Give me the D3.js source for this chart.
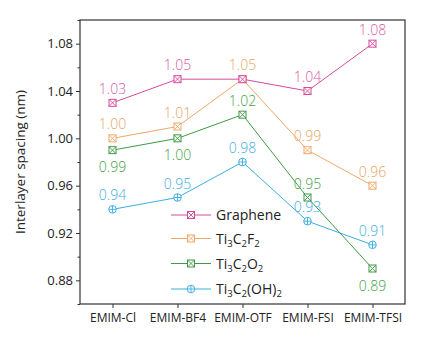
<!DOCTYPE html>
<html><head><meta charset="utf-8">
<script src="https://cdn.jsdelivr.net/npm/d3@7"></script>
<style>body{margin:0;background:#fff}svg{display:block}text{font-family:"Open Sans",sans-serif;font-weight:300}</style>
</head><body><svg id="c" width="424" height="338"></svg>
<script>
const categories = ["EMIM-Cl","EMIM-BF4","EMIM-OTF","EMIM-FSI","EMIM-TFSI"];
const graphene = [1.03,1.05,1.05,1.04,1.08];
const f2 = [1.00,1.01,1.05,0.99,0.96];
const o2 = [0.99,1.00,1.02,0.95,0.89];
const oh2 = [0.94,0.95,0.98,0.93,0.91];
const yTicks = [0.88,0.92,0.96,1.00,1.04,1.08];
const yMinor = [0.86,0.90,0.94,0.98,1.02,1.06,1.10];
// label placement per point: 1 above, -1 below, 0 hidden (covered by another label)
const o2Pos = [-1,-1,1,1,-1];

const series = [
  {name:[["Graphene",""]], vals:graphene, color:"#d8489c", text:"#d95aa6", marker:"sq", pos:[1,1,0,1,1]},
  {name:[["Ti",""],["3","sub"],["C",""],["2","sub"],["F",""],["2","sub"]], vals:f2, color:"#f0a868", text:"#e8a466", marker:"sq", pos:[1,1,1,1,1]},
  {name:[["Ti",""],["3","sub"],["C",""],["2","sub"],["O",""],["2","sub"]], vals:o2, color:"#3d9a45", text:"#45a04c", marker:"sq", pos:o2Pos},
  {name:[["Ti",""],["3","sub"],["C",""],["2","sub"],["(OH)",""],["2","sub"]], vals:oh2, color:"#3aaee0", text:"#42aee0", marker:"ci", pos:[1,1,1,1,1]}
];

const svg = d3.select("#c");
const L=80,T=20,R=405,B=304;
const x = d3.scalePoint().domain(categories).range([L,R]).padding(0.5);
const y = d3.scaleLinear().domain([0.86,1.10]).range([B,T]);

svg.append("rect").attr("x",L).attr("y",T).attr("width",R-L).attr("height",B-T)
  .attr("fill","none").attr("stroke","#333").attr("stroke-width",1.2);

const ya = svg.append("g").attr("transform",`translate(${L},0)`)
  .call(d3.axisLeft(y).tickValues(yTicks).tickFormat(d3.format(".2f")).tickSize(4).tickPadding(3));
ya.select(".domain").remove();
ya.selectAll("line").attr("stroke","#333");
ya.selectAll("text").attr("font-size",13).attr("fill","#222").style("font-family","'Open Sans',sans-serif").style("font-weight",400);
svg.append("g").attr("transform",`translate(${L},0)`)
  .call(d3.axisLeft(y).tickValues(yMinor).tickFormat("").tickSize(2.5))
  .call(g=>{g.select(".domain").remove();g.selectAll("line").attr("stroke","#333");});

const xa = svg.append("g").attr("transform",`translate(0,${B})`)
  .call(d3.axisBottom(x).tickSize(4).tickPadding(5));
xa.select(".domain").remove();
xa.selectAll("line").attr("stroke","#333");
xa.selectAll("text").attr("font-size",12).attr("fill","#222").style("font-family","'Open Sans',sans-serif").style("font-weight",400);

svg.append("text").attr("transform",`translate(25,${(T+B)/2}) rotate(-90)`)
  .attr("text-anchor","middle").attr("font-size",13.5).attr("fill","#222").style("font-weight",400).text("Interlayer spacing (nm)");

function marker(g, type, cx, cy, color){
  const s=3.5;
  if(type==="sq"){
    g.append("rect").attr("x",cx-s).attr("y",cy-s).attr("width",2*s).attr("height",2*s)
      .attr("fill","#fff").attr("stroke",color).attr("stroke-width",1);
    g.append("path").attr("d",`M${cx-s},${cy-s}L${cx+s},${cy+s}M${cx+s},${cy-s}L${cx-s},${cy+s}`)
      .attr("stroke",color).attr("stroke-width",0.9);
  } else {
    g.append("circle").attr("cx",cx).attr("cy",cy).attr("r",s+0.3)
      .attr("fill","#fff").attr("stroke",color).attr("stroke-width",1);
    g.append("path").attr("d",`M${cx-s},${cy}L${cx+s},${cy}M${cx},${cy-s}L${cx},${cy+s}`)
      .attr("stroke",color).attr("stroke-width",0.9);
  }
}

const line = d3.line().x((d,i)=>x(categories[i])).y(d=>y(d));
[...series].reverse().forEach(s=>{
  const g = svg.append("g");
  g.append("path").datum(s.vals).attr("d",line).attr("fill","none").attr("stroke",s.color).attr("stroke-width",1);
  s.vals.forEach((v,i)=>marker(g,s.marker,x(categories[i]),y(v),s.color));
});
series.forEach(s=>{
  s.vals.forEach((v,i)=>{
    if(s.pos[i]===0) return;
    const above = s.pos[i]===1;
    svg.append("text").attr("x",x(categories[i])).attr("y",y(v)+(above?-9:22))
      .attr("text-anchor","middle").attr("font-size",14).attr("fill",s.text).text(d3.format(".2f")(v));
  });
});

const legY=[215,238.5,263.5,289];
series.forEach((s,i)=>{
  const g=svg.append("g");
  g.append("line").attr("x1",171).attr("x2",211).attr("y1",legY[i]).attr("y2",legY[i]).attr("stroke",s.color).attr("stroke-width",1);
  marker(g,s.marker,191,legY[i],s.color);
  const t=g.append("text").attr("x",216).attr("y",legY[i]+5).attr("font-size",14).attr("fill","#222").style("font-weight",400);
  s.name.forEach(([str,k])=>{
    const ts=t.append("tspan").text(str);
    if(k==="sub") ts.attr("font-size",9.5).attr("dy",3);
    else ts.attr("dy", t.selectAll("tspan").size()>1 ? -3 : 0);
  });
});
</script></body></html>
